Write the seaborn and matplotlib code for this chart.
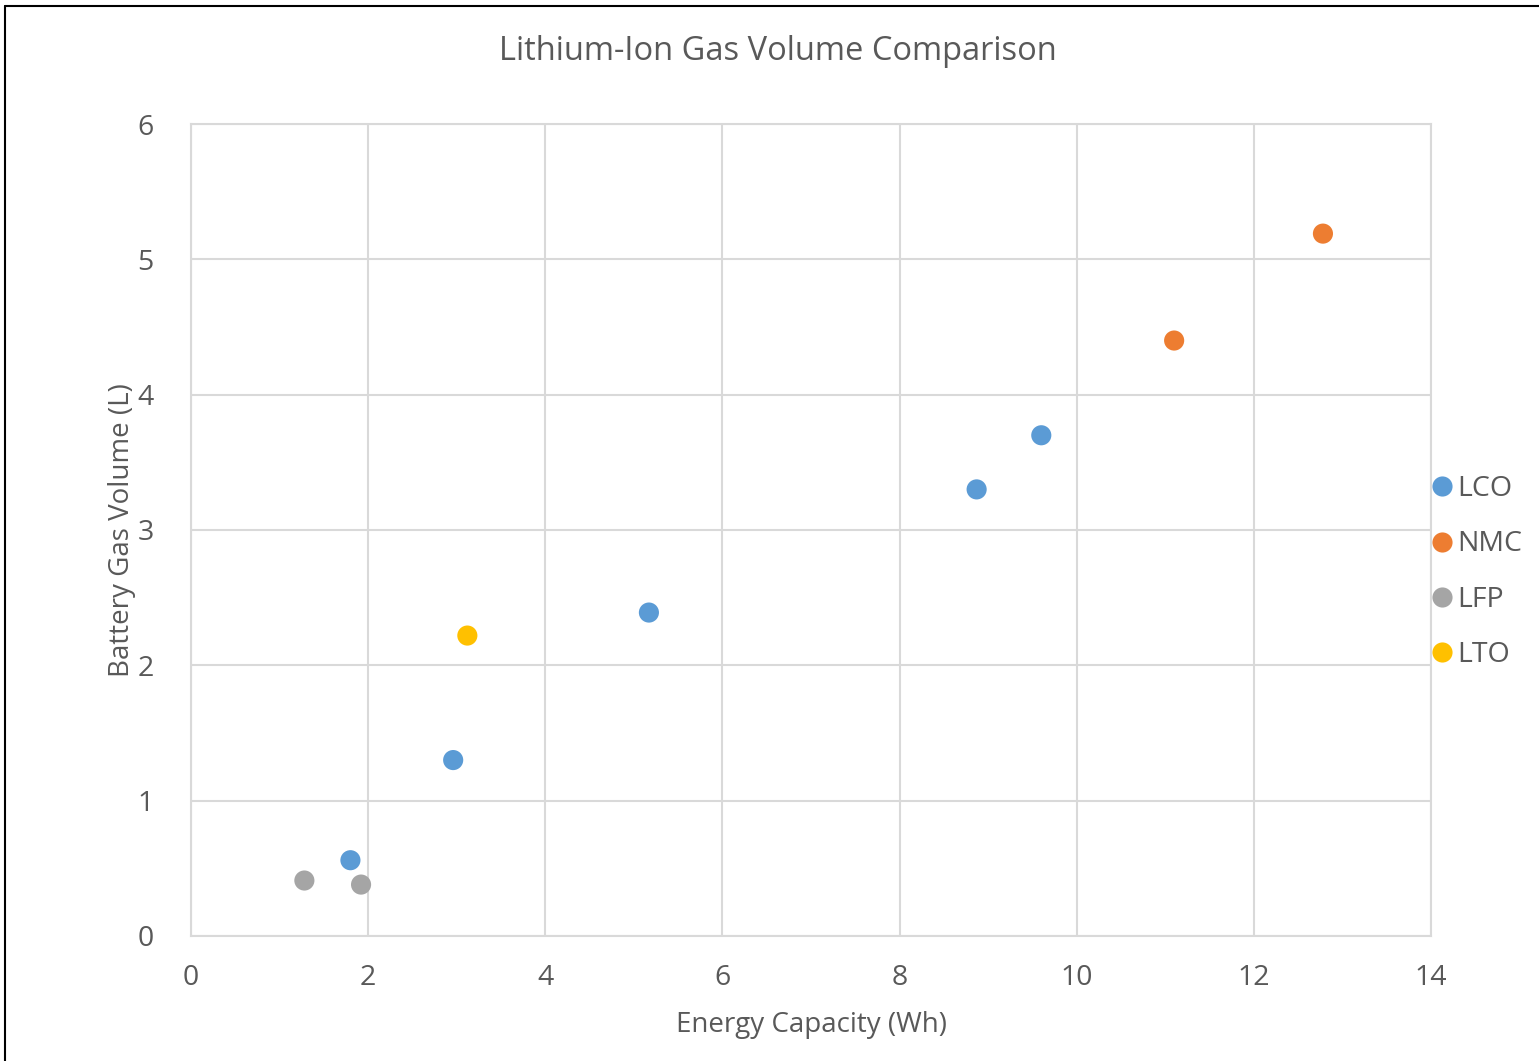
import seaborn as sns
import matplotlib.pyplot as plt
import pandas as pd
from matplotlib.lines import Line2D

chemistry = ["LCO", "LCO", "LCO", "LCO", "LCO", "NMC", "NMC", "LFP", "LFP", "LTO"]
energy_wh = [1.80, 2.96, 5.17, 8.87, 9.60, 11.10, 12.78, 1.28, 1.92, 3.12]
gas_l = [0.56, 1.30, 2.39, 3.30, 3.70, 4.40, 5.19, 0.41, 0.38, 2.22]

order = ["LCO", "NMC", "LFP", "LTO"]
colors = ["#5B9BD5", "#ED7D31", "#A5A5A5", "#FFC000"]

df = pd.DataFrame({"Chemistry": chemistry, "Energy": energy_wh, "Gas": gas_l})

sns.set_style("white")
plt.rcParams["font.family"] = ["Open Sans", "DejaVu Sans"]
txt = "#595959"
grid = "#D9D9D9"

fig = plt.figure(figsize=(15.39, 10.61), dpi=100)
ax = fig.add_axes([191 / 1539, 125 / 1061, 1240 / 1539, 812 / 1061])

sns.scatterplot(data=df, x="Energy", y="Gas", hue="Chemistry", hue_order=order,
                palette=colors, s=210, edgecolor="none", ax=ax, legend=False, zorder=3)

ax.set_xlim(0, 14)
ax.set_ylim(0, 6)
ax.set_xticks(range(0, 15, 2))
ax.set_yticks(range(0, 7))
ax.grid(True, color=grid, linewidth=1.5)
for sp in ax.spines.values():
    sp.set_color(grid)
    sp.set_linewidth(1.5)
ax.tick_params(axis="both", length=0, labelsize=20.5, colors=txt)
ax.tick_params(axis="x", pad=20)
ax.tick_params(axis="y", pad=27)

ax.set_xlabel("Energy Capacity (Wh)", fontsize=20, color=txt, labelpad=14)
ax.set_ylabel("Battery Gas Volume (L)", fontsize=20, color=txt, labelpad=1)
fig.text(778 / 1539, 1 - 51 / 1061, "Lithium-Ion Gas Volume Comparison", fontsize=23.5,
         color=txt, ha="center", va="center")

handles = [Line2D([0], [0], marker="o", linestyle="none", markersize=14.5,
                  markerfacecolor=c, markeredgecolor="none") for c in colors]
leg = ax.legend(handles, order, loc="center left", bbox_to_anchor=(0.997, 0.448),
                frameon=False, fontsize=20.5, handletextpad=0.07, labelspacing=0.965,
                borderaxespad=0.0, handlelength=1.0, borderpad=0.0)
for t in leg.get_texts():
    t.set_color(txt)

# outer chart border (top and left visible in the reference)
fig.add_artist(Line2D([5 / 1539, 5 / 1539], [0, 1 - 6 / 1061], color="black", linewidth=1.5,
                      transform=fig.transFigure))
fig.add_artist(Line2D([5 / 1539, 1], [1 - 6 / 1061, 1 - 6 / 1061], color="black", linewidth=1.5,
                      transform=fig.transFigure))

fig.savefig("out.png", dpi=100, facecolor="white")
